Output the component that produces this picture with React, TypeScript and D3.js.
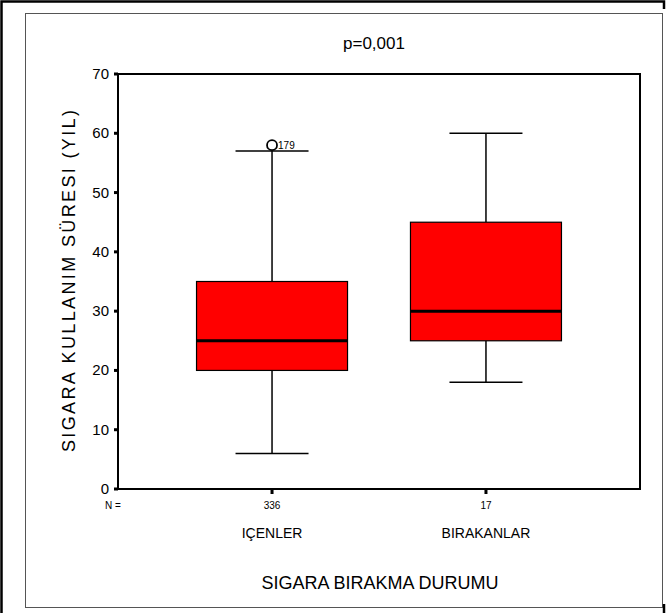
import React from "react";
import * as d3 from "d3";

const categories = ["IÇENLER", "BIRAKANLAR"];
const counts = ["336", "17"];
const whiskerLow = [6, 18];
const q1 = [20, 25];
const median = [25, 30];
const q3 = [35, 45];
const whiskerHigh = [57, 60];
const outlierValues = [[58], []];
const outlierLabels = [["179"], []];
const yTicks = [0, 10, 20, 30, 40, 50, 60, 70];

const W = 671;
const H = 613;
const FONT = "'Liberation Sans Narrow', 'Liberation Sans', Arial, sans-serif";

export default function App() {
  const left = 118, right = 640, top = 74, bottom = 489;
  const y = d3.scaleLinear().domain([0, 70]).range([bottom, top]);
  const x = d3.scalePoint<string>().domain(categories).range([left, right]).padding(0.72);
  const boxW = 151;
  const capW = 73;

  return (
    <div style={{ position: "absolute", left: 0, top: 0 }}>
      <svg width={W} height={H} style={{ display: "block", background: "#fff" }}>
        {/* outer frames */}
        <rect x={25.5} y={13.5} width={637} height={594} fill="none" stroke="#555" strokeWidth={1} />
        <polyline points={`1.5,613 1.5,1.5 664,1.5 664,9`} fill="none" stroke="#000" strokeWidth={2.5} />
        <line x1={664} y1={604} x2={664} y2={613} stroke="#000" strokeWidth={2.5} />

        {/* title */}
        <text x={374} y={49} textAnchor="middle" fontFamily={FONT} fontSize={17}>p=0,001</text>

        {/* boxes */}
        {categories.map((c, i) => {
          const cx = x(c)!;
          return (
            <g key={c}>
              <line x1={cx} x2={cx} y1={y(whiskerHigh[i])} y2={y(q3[i])} stroke="#000" strokeWidth={1.5} />
              <line x1={cx} x2={cx} y1={y(q1[i])} y2={y(whiskerLow[i])} stroke="#000" strokeWidth={1.5} />
              <line x1={cx - capW / 2} x2={cx + capW / 2} y1={y(whiskerHigh[i])} y2={y(whiskerHigh[i])} stroke="#000" strokeWidth={1.5} />
              <line x1={cx - capW / 2} x2={cx + capW / 2} y1={y(whiskerLow[i])} y2={y(whiskerLow[i])} stroke="#000" strokeWidth={1.5} />
              <rect x={cx - boxW / 2} y={y(q3[i])} width={boxW} height={y(q1[i]) - y(q3[i])} fill="#ff0000" stroke="#000" strokeWidth={1.2} />
              <line x1={cx - boxW / 2} x2={cx + boxW / 2} y1={y(median[i])} y2={y(median[i])} stroke="#000" strokeWidth={3} />
              {outlierValues[i].map((v, j) => (
                <g key={j}>
                  <circle cx={cx} cy={y(v)} r={5} fill="#fff" stroke="#000" strokeWidth={1.8} />
                  <text x={cx + 6} y={y(v) + 4} fontFamily={FONT} fontSize={10}>{outlierLabels[i][j]}</text>
                </g>
              ))}
              {/* x ticks */}
              <rect x={cx - 1.5} y={bottom + 1} width={3} height={4} fill="#000" />
              <text x={cx} y={509} textAnchor="middle" fontFamily={FONT} fontSize={10}>{counts[i]}</text>
              <text x={cx} y={538} textAnchor="middle" fontFamily={FONT} fontSize={14}>{c}</text>
            </g>
          );
        })}

        {/* plot frame */}
        <rect x={left} y={top} width={right - left} height={bottom - top} fill="none" stroke="#000" strokeWidth={2} />

        {/* y ticks */}
        {yTicks.map((t) => (
          <g key={t}>
            <rect x={left - 4} y={y(t) - 1.5} width={4} height={3} fill="#000" />
            <text x={left - 9} y={y(t) + 5} textAnchor="end" fontFamily={FONT} fontSize={15}>{t}</text>
          </g>
        ))}
        <text x={left - 5} y={509} textAnchor="middle" fontFamily={FONT} fontSize={10}>N =</text>

        {/* axis titles */}
        <text transform={`translate(75,281) rotate(-90)`} textAnchor="middle" fontFamily={FONT} fontSize={18} textLength={342} lengthAdjust="spacing">SIGARA KULLANIM SÜRESI (YIL)</text>
        <text x={380} y={589} textAnchor="middle" fontFamily={FONT} fontSize={18}>SIGARA BIRAKMA DURUMU</text>
      </svg>
    </div>
  );
}
